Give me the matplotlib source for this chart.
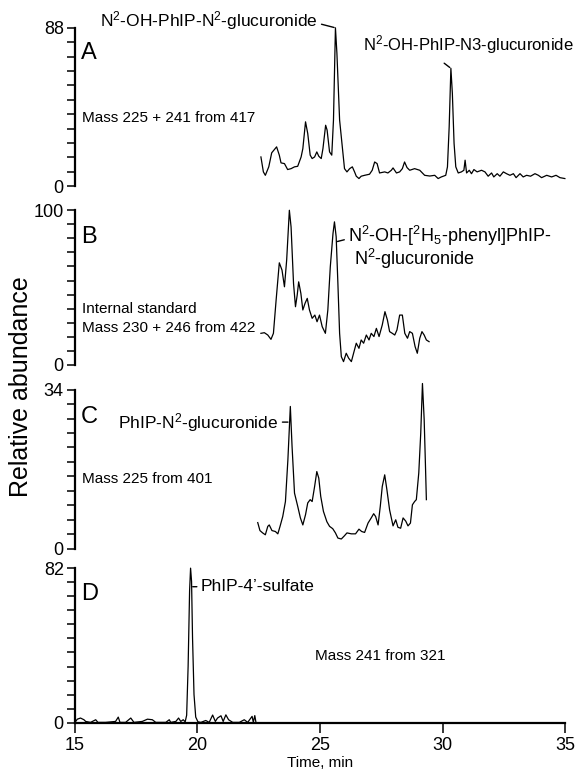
import numpy as np
import matplotlib
matplotlib.use('Agg')
import matplotlib.pyplot as plt

plt.rcParams['font.family'] = ['Liberation Sans', 'DejaVu Sans']
plt.rcParams['mathtext.fontset'] = 'custom'
plt.rcParams['mathtext.rm'] = 'Liberation Sans'
plt.rcParams['mathtext.it'] = 'Liberation Sans:italic'
plt.rcParams['mathtext.bf'] = 'Liberation Sans:bold'
plt.rcParams['mathtext.default'] = 'regular'

# Panel A: mass 225 + 241 from 417
time_a = [22.59, 22.69, 22.77, 22.91, 23.03, 23.23, 23.34, 23.41, 23.55, 23.68, 23.82, 23.96,
          24.09, 24.23, 24.30, 24.41, 24.50, 24.60, 24.68, 24.78, 24.87, 24.95, 25.05, 25.12,
          25.23, 25.29, 25.39, 25.48, 25.55, 25.63, 25.69, 25.80, 25.91, 26.00, 26.10, 26.21,
          26.32, 26.41, 26.48, 26.59, 26.68, 26.82, 27.02, 27.13, 27.23, 27.33, 27.43, 27.64,
          27.77, 27.91, 27.98, 28.12, 28.25, 28.36, 28.45, 28.55, 28.66, 28.86, 29.07, 29.27,
          29.48, 29.68, 29.82, 29.95, 30.13, 30.20, 30.27, 30.34, 30.40, 30.47, 30.54, 30.64,
          30.77, 30.87, 30.92, 30.98, 31.09, 31.18, 31.28, 31.41, 31.59, 31.73, 31.86, 32.00,
          32.09, 32.23, 32.34, 32.48, 32.61, 32.75, 32.89, 33.00, 33.16, 33.29, 33.43, 33.59,
          33.77, 33.91, 34.04, 34.25, 34.45, 34.63, 34.79, 34.99]
abund_a = [16.3, 8.0, 6.1, 10.8, 18.6, 21.9, 17.3, 13.0, 12.6, 9.3, 9.8, 10.8,
           11.1, 16.3, 20.9, 35.8, 29.3, 17.3, 15.4, 16.3, 19.1, 16.7, 15.4, 20.9,
           33.9, 31.2, 19.1, 17.3, 36.8, 88.0, 73.9, 36.8, 21.9, 9.8, 8.0, 9.8,
           10.8, 8.0, 5.6, 4.3, 5.6, 6.1, 6.7, 8.9, 13.5, 12.6, 7.4, 8.0,
           7.4, 8.9, 10.2, 7.4, 8.0, 9.8, 13.5, 10.4, 8.9, 9.8, 8.9, 6.1,
           5.7, 6.1, 4.3, 5.2, 6.1, 10.8, 33.0, 65.5, 51.6, 23.8, 10.8, 7.4,
           8.0, 8.9, 14.5, 7.4, 8.9, 7.0, 9.3, 8.0, 8.9, 8.0, 5.6, 7.4,
           5.2, 7.0, 5.6, 8.0, 7.0, 6.1, 7.0, 4.8, 7.0, 5.2, 6.1, 5.6,
           7.0, 6.1, 4.8, 6.1, 5.2, 6.1, 4.8, 4.3]

# Panel B: internal standard, mass 230 + 246 from 422
time_b = [22.59, 22.73, 22.87, 23.00, 23.10, 23.21, 23.34, 23.45, 23.55, 23.64, 23.75, 23.82,
          23.92, 24.00, 24.07, 24.13, 24.22, 24.30, 24.39, 24.48, 24.57, 24.68, 24.79, 24.88,
          24.98, 25.09, 25.22, 25.32, 25.42, 25.53, 25.59, 25.66, 25.73, 25.80, 25.87, 25.96,
          26.07, 26.17, 26.28, 26.37, 26.48, 26.59, 26.68, 26.78, 26.89, 27.00, 27.09, 27.20,
          27.30, 27.41, 27.54, 27.65, 27.75, 27.84, 27.95, 28.05, 28.14, 28.25, 28.36, 28.46,
          28.57, 28.66, 28.77, 28.88, 28.97, 29.07, 29.16, 29.25, 29.34, 29.45]
abund_b = [20.4, 20.8, 19.3, 16.5, 20.4, 41.9, 66.0, 61.3, 50.5, 67.7, 100.0, 89.2,
           52.7, 37.6, 45.1, 53.7, 46.2, 35.5, 39.8, 43.0, 35.5, 30.1, 32.2, 27.9,
           32.2, 24.7, 20.4, 35.5, 63.4, 84.9, 92.5, 82.8, 52.7, 20.4, 5.3, 2.1,
           7.5, 4.3, 2.1, 7.5, 14.0, 10.7, 16.1, 14.0, 19.3, 16.1, 20.4, 18.3,
           23.6, 18.3, 25.8, 34.4, 29.0, 21.5, 20.4, 19.3, 22.6, 32.2, 32.2, 20.4,
           17.2, 21.5, 20.4, 11.8, 7.5, 17.2, 21.5, 19.3, 16.1, 15.0]

# Panel C: mass 225 from 401
time_c = [22.46, 22.55, 22.66, 22.77, 22.87, 22.93, 23.04, 23.18, 23.28, 23.37, 23.48, 23.59,
          23.69, 23.79, 23.86, 23.96, 24.09, 24.20, 24.30, 24.41, 24.50, 24.60, 24.68, 24.78,
          24.87, 24.95, 25.03, 25.14, 25.28, 25.39, 25.52, 25.63, 25.73, 25.87, 26.00, 26.10,
          26.28, 26.45, 26.59, 26.70, 26.82, 26.96, 27.09, 27.19, 27.27, 27.37, 27.46, 27.54,
          27.64, 27.73, 27.84, 27.98, 28.09, 28.18, 28.29, 28.39, 28.50, 28.59, 28.69, 28.77,
          28.86, 28.93, 29.03, 29.11, 29.18, 29.25, 29.30, 29.34]
abund_c = [5.6, 3.9, 3.4, 3.0, 4.8, 5.1, 3.9, 3.7, 3.2, 4.8, 6.9, 10.1,
           19.0, 30.4, 21.9, 11.9, 9.1, 6.6, 5.1, 7.3, 9.8, 10.5, 10.1, 13.3,
           16.5, 15.1, 11.2, 8.0, 5.8, 4.8, 4.3, 3.4, 2.3, 2.1, 2.8, 3.4,
           3.2, 3.2, 4.2, 3.7, 3.5, 5.5, 6.6, 7.5, 6.9, 5.1, 9.1, 13.3,
           15.8, 12.6, 8.3, 4.9, 6.2, 4.6, 4.4, 6.6, 5.9, 4.9, 5.5, 9.4,
           10.1, 10.5, 16.2, 24.7, 35.3, 27.6, 18.3, 10.5]

# Panel D: mass 241 from 321
time_d = [15.03, 15.10, 15.23, 15.37, 15.44, 15.64, 15.85, 15.94, 16.25, 16.66, 16.77, 16.84,
          17.07, 17.28, 17.41, 17.75, 17.96, 18.16, 18.30, 18.71, 18.85, 18.91, 19.12, 19.23,
          19.32, 19.42, 19.50, 19.56, 19.62, 19.68, 19.72, 19.76, 19.80, 19.86, 19.93, 20.02,
          20.14, 20.34, 20.48, 20.62, 20.73, 20.82, 20.96, 21.05, 21.16, 21.27, 21.44, 21.71,
          21.91, 22.05, 22.23, 22.28, 22.34, 22.39]
abund_d = [0.7, 1.9, 2.5, 1.6, 0.7, 0.2, 1.6, 0.2, 0.2, 0.7, 3.0, 0.2,
           0.2, 2.5, 0.2, 0.7, 1.9, 1.6, 0.2, 0.2, 1.6, 0.2, 0.7, 2.5,
           0.7, 1.6, 0.5, 4.0, 30.0, 70.0, 82.0, 75.0, 45.0, 15.0, 3.0, 0.5,
           0.2, 1.2, 0.2, 4.1, 0.7, 2.5, 3.7, 0.7, 4.2, 1.6, 0.2, 0.2,
           1.6, 0.2, 3.4, 0.2, 3.8, 0.0]

y_tops = [88, 100, 34, 82]
panel_letters = ['A', 'B', 'C', 'D']
x_ticks = [15, 20, 25, 30, 35]

fig = plt.figure(figsize=(5.85, 7.73), dpi=100)
boxes = [(0.128, 0.759, 0.838, 0.205),
         (0.128, 0.528, 0.838, 0.200),
         (0.128, 0.290, 0.838, 0.206),
         (0.128, 0.065, 0.838, 0.200)]
letter_y = [0.84, 0.83, 0.83, 0.83]
series = [(time_a, abund_a), (time_b, abund_b), (time_c, abund_c), (time_d, abund_d)]

axes = []
for i, box in enumerate(boxes):
    ax = fig.add_axes(box)
    t, v = series[i]
    ax.plot(t, v, color='black', lw=0.9, clip_on=False)
    ax.set_xlim(15, 35)
    ax.set_ylim(0, y_tops[i])
    for s in ['top', 'right', 'bottom']:
        ax.spines[s].set_visible(False)
    ax.spines['left'].set_linewidth(1.6)
    ticks = np.linspace(0, y_tops[i], 12)
    ax.set_yticks(ticks)
    labels = [''] * 12
    labels[0] = '0'
    labels[-1] = str(y_tops[i])
    ax.set_yticklabels(labels)
    ax.tick_params(axis='y', direction='out', length=6, width=1.1, labelsize=13, pad=2)
    ax.text(0.012, letter_y[i], panel_letters[i], transform=ax.transAxes,
            fontsize=17, va='center', ha='left')
    if i < 3:
        ax.set_xticks([])
    axes.append(ax)

ax_a, ax_b, ax_c, ax_d = axes

# bottom time axis
ax_d.spines['bottom'].set_visible(True)
ax_d.spines['bottom'].set_linewidth(1.6)
ax_d.set_xticks(x_ticks)
ax_d.tick_params(axis='x', direction='out', length=7, width=1.1, labelsize=13, pad=3)
ax_d.set_xlabel('Time, min', fontsize=11, labelpad=2)

fig.text(0.036, 0.50, 'Relative abundance', rotation=90, fontsize=18,
         ha='center', va='center')

# condition texts
mass_fs = 11
ax_a.text(0.014, 0.43, 'Mass 225 + 241 from 417', transform=ax_a.transAxes,
          fontsize=mass_fs, va='center')
ax_b.text(0.014, 0.36, 'Internal standard', transform=ax_b.transAxes,
          fontsize=mass_fs, va='center')
ax_b.text(0.014, 0.24, 'Mass 230 + 246 from 422', transform=ax_b.transAxes,
          fontsize=mass_fs, va='center')
ax_c.text(0.014, 0.44, 'Mass 225 from 401', transform=ax_c.transAxes,
          fontsize=mass_fs, va='center')
ax_d.text(0.49, 0.43, 'Mass 241 from 321', transform=ax_d.transAxes,
          fontsize=mass_fs, va='center')

lead = dict(arrowstyle='-', color='black', lw=1.0, shrinkA=1, shrinkB=1)
ann_fs = 12.5

# peak labels
ia = int(np.argmax(abund_a[:60]))
ax_a.annotate(r'N$^{2}$-OH-PhIP-N$^{2}$-glucuronide', xy=(time_a[ia], abund_a[ia]),
              xytext=(-13, 5), textcoords='offset points', ha='right', va='center',
              fontsize=ann_fs, annotation_clip=False,
              arrowprops=dict(lead, relpos=(1, 0.4)))
ia3 = 60 + int(np.argmax(abund_a[60:]))
ax_a.annotate(r'N$^{2}$-OH-PhIP-N3-glucuronide', xy=(time_a[ia3], abund_a[ia3]),
              xytext=(-63, 17), textcoords='offset points', ha='left', va='center',
              fontsize=12, annotation_clip=False,
              arrowprops=dict(lead, relpos=(0.34, 0), shrinkA=5))

ib = 30
ax_b.annotate(r'N$^{2}$-OH-[$^{2}$H$_{5}$-phenyl]PhIP-', xy=(time_b[ib] + 0.06, 0.86 * abund_b[ib]),
              xytext=(9, 4), textcoords='offset points', ha='left', va='center',
              fontsize=13, annotation_clip=False,
              arrowprops=dict(lead, relpos=(0, 0.4)))
ax_b.annotate(r'N$^{2}$-glucuronide', xy=(time_b[ib], abund_b[ib]),
              xytext=(14, -27), textcoords='offset points', ha='left', va='center',
              fontsize=13, annotation_clip=False)

ic = int(np.argmax(abund_c[:30]))
ax_c.annotate(r'PhIP-N$^{2}$-glucuronide', xy=(time_c[ic] - 0.04, 0.89 * abund_c[ic]),
              xytext=(-8, 0), textcoords='offset points', ha='right', va='center',
              fontsize=ann_fs, annotation_clip=False,
              arrowprops=dict(lead, relpos=(1, 0.5)))

idd = int(np.argmax(abund_d))
ax_d.annotate('PhIP-4\u2019-sulfate', xy=(time_d[idd] + 0.03, 0.88 * abund_d[idd]),
              xytext=(7, 0), textcoords='offset points', ha='left', va='center',
              fontsize=ann_fs, annotation_clip=False,
              arrowprops=dict(lead, relpos=(0, 0.5)))

fig.savefig('out.png', dpi=100)
